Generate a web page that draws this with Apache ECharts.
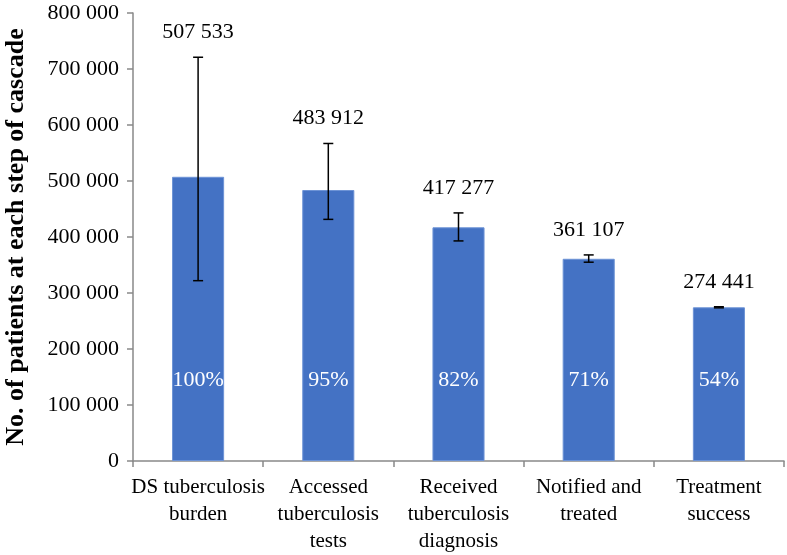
<!DOCTYPE html>
<html><head><meta charset="utf-8">
<script src="https://cdn.jsdelivr.net/npm/echarts@6/dist/echarts.min.js"></script>
<style>html,body{margin:0;padding:0;background:#fff}#c{width:787px;height:555px}</style>
</head><body><div id="c"></div>
<script>
var categories = ["DS tuberculosis\nburden", "Accessed\ntuberculosis\ntests", "Received\ntuberculosis\ndiagnosis", "Notified and\ntreated", "Treatment\nsuccess"];
var values = [507533, 483912, 417277, 361107, 274441];
var errLow = [322000, 431500, 393000, 355000, 273500];
var errHigh = [721000, 567000, 443000, 368000, 275500];
var percents = ["100%", "95%", "82%", "71%", "54%"];
var yTicks = [0, 100000, 200000, 300000, 400000, 500000, 600000, 700000, 800000];

function fmt(v){ return String(v).replace(/\B(?=(\d{3})+(?!\d))/g, ' '); }
var FONT = "'Liberation Serif', 'DejaVu Serif', serif";

var chart = echarts.init(document.getElementById('c'));
chart.setOption({
  animation: false,
  grid: {left: 133, right: 3, top: 13, bottom: 94, containLabel: false, outerBoundsMode: 'none'},
  xAxis: {
    type: 'category', data: categories,
    axisLine: {lineStyle: {color: '#898989', width: 1.5}},
    axisTick: {show: true, alignWithLabel: false, length: 6, lineStyle: {color: '#898989', width: 1.5}},
    axisLabel: {color: '#000', fontFamily: FONT, fontSize: 21, lineHeight: 27, margin: 13, interval: 0, overflow: 'none'}
  },
  yAxis: {
    type: 'value', min: 0, max: 800000, interval: 100000,
    name: 'No. of patients at each step of cascade', nameLocation: 'middle', nameGap: 104,
    nameTextStyle: {color: '#000', fontFamily: FONT, fontSize: 26, fontWeight: 'bold'},
    axisLine: {show: true, lineStyle: {color: '#898989', width: 1.5}},
    axisTick: {show: true, length: 6, lineStyle: {color: '#898989', width: 1.5}},
    splitLine: {show: false},
    axisLabel: {color: '#000', fontFamily: FONT, fontSize: 22, margin: 14,
      formatter: function(v){ return yTicks.indexOf(v) >= 0 ? fmt(v) : ''; }}
  },
  series: [
    {
      type: 'bar', data: values, barWidth: '40%',
      itemStyle: {color: '#4472c4', borderColor: '#6d93d6', borderWidth: 1},
      label: {show: true, position: 'insideBottom', distance: 70, color: '#fff', fontFamily: FONT, fontSize: 22,
        formatter: function(p){ return percents[p.dataIndex]; }}
    },
    {
      type: 'custom',
      data: values.map(function(v, i){ return [i, errLow[i], errHigh[i], v]; }),
      encode: {x: 0, y: [1, 2]},
      z: 10,
      renderItem: function(params, api){
        var x = api.value(0);
        var lo = api.coord([x, api.value(1)]);
        var hi = api.coord([x, api.value(2)]);
        var cap = 5;
        var st = {stroke: '#000', lineWidth: 1.5};
        return {type: 'group', children: [
          {type: 'line', shape: {x1: lo[0], y1: lo[1], x2: hi[0], y2: hi[1]}, style: st},
          {type: 'line', shape: {x1: lo[0]-cap, y1: lo[1], x2: lo[0]+cap, y2: lo[1]}, style: st},
          {type: 'line', shape: {x1: hi[0]-cap, y1: hi[1], x2: hi[0]+cap, y2: hi[1]}, style: st},
          {type: 'text', x: hi[0], y: hi[1] - 25, style: {text: fmt(api.value(3)), fill: '#000',
            font: "22px 'Liberation Serif', 'DejaVu Serif', serif", align: 'center', verticalAlign: 'middle'}}
        ]};
      }
    }
  ]
});
</script></body></html>
